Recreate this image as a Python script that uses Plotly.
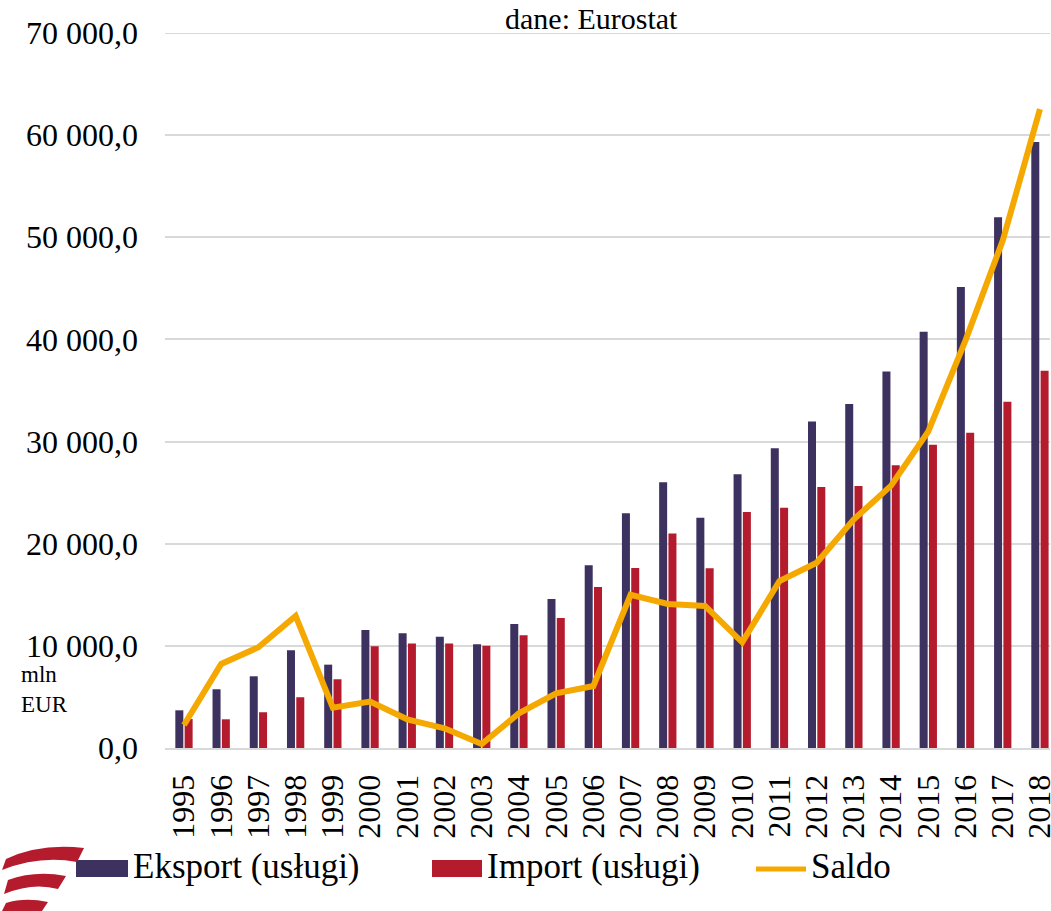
import plotly.graph_objects as go

years = [str(y) for y in range(1995, 2019)]
eksport = [3690, 5750, 7020, 9570, 8160, 11560, 11230, 10900, 10150, 12140, 14590, 17890,
           22990, 26020, 22530, 26800, 29340, 31970, 33670, 36860, 40760, 45140, 51970, 59320]
import_ = [2840, 2810, 3500, 4970, 6730, 9960, 10220, 10220, 10020, 11030, 12730, 15770,
           17630, 20990, 17600, 23100, 23520, 25560, 25650, 27690, 29680, 30870, 33890, 36940]
saldo = [2250, 8230, 9860, 12930, 3950, 4540, 2810, 1930, 390, 3400, 5360, 6070,
         14990, 14100, 13910, 10350, 16350, 18130, 22380, 25690, 31000, 39910, 49680, 62550]
ytick_vals = [0, 10000, 20000, 30000, 40000, 50000, 60000, 70000]
ytick_text = ["0,0", "10 000,0", "20 000,0", "30 000,0", "40 000,0", "50 000,0", "60 000,0", "70 000,0"]
series_names = ["Eksport (usługi)", "Import (usługi)", "Saldo"]

C_EXP = "#3d3160"
C_IMP = "#b41c2d"
C_SAL = "#f5a800"
FONT = "'Liberation Serif', 'Times New Roman', 'DejaVu Serif', serif"

W, H = 1051, 911
L, R, T, B = 165, 1, 33, 163
PW, PH = W - L - R, H - T - B


def px(x):
    return (x - L) / PW


def py(y):
    return (H - B - y) / PH


fig = go.Figure()
fig.add_trace(go.Bar(x=years, y=eksport, name=series_names[0], marker_color=C_EXP,
                     marker_line_width=0, showlegend=False))
fig.add_trace(go.Bar(x=years, y=import_, name=series_names[1], marker_color=C_IMP,
                     marker_line_width=0, showlegend=False))
fig.add_trace(go.Scatter(x=years, y=saldo, name=series_names[2], mode="lines",
                         line=dict(color=C_SAL, width=6), showlegend=False))

shapes = []
# top gridline (range edge)
shapes.append(dict(type="line", xref="paper", yref="y", x0=0, x1=1, y0=70000, y1=70000,
                   line=dict(color="#d9d9d9", width=2), layer="below"))
# legend symbols
shapes.append(dict(type="rect", xref="paper", yref="paper", x0=px(76), x1=px(128), y0=py(877), y1=py(860),
                   fillcolor=C_EXP, line_width=0))
shapes.append(dict(type="rect", xref="paper", yref="paper", x0=px(432), x1=px(482), y0=py(877), y1=py(860),
                   fillcolor=C_IMP, line_width=0))
shapes.append(dict(type="line", xref="paper", yref="paper", x0=px(756), x1=px(806), y0=py(869), y1=py(869),
                   line=dict(color=C_SAL, width=5)))


# decorative logo stripes (bottom-left)
def stripe(pts_top, pts_bot):
    p = "M {},{} ".format(px(pts_top[0][0]), py(pts_top[0][1]))
    p += "Q {},{} {},{} ".format(px(pts_top[1][0]), py(pts_top[1][1]), px(pts_top[2][0]), py(pts_top[2][1]))
    p += "L {},{} ".format(px(pts_bot[2][0]), py(pts_bot[2][1]))
    p += "Q {},{} {},{} Z".format(px(pts_bot[1][0]), py(pts_bot[1][1]), px(pts_bot[0][0]), py(pts_bot[0][1]))
    return dict(type="path", xref="paper", yref="paper", path=p, fillcolor=C_IMP, line_width=0, layer="above")


shapes.append(stripe([(6, 859), (40, 843), (84, 848)], [(2, 870), (40, 855), (77, 862)]))
shapes.append(stripe([(8, 880), (35, 870), (66, 876)], [(4, 894), (33, 882), (58, 889)]))
shapes.append(stripe([(6, 903), (25, 897), (48, 902)], [(2, 911), (20, 911), (42, 911)]))

annotations = [
    dict(text="dane: Eurostat", xref="paper", yref="paper", x=px(591), y=py(0), showarrow=False,
         xanchor="center", yanchor="top", font=dict(family=FONT, size=30, color="#000")),
    dict(text="mln<br>EUR", xref="paper", yref="paper", x=px(19), y=py(660), showarrow=False,
         xanchor="left", yanchor="top", align="left", font=dict(family=FONT, size=23, color="#000")),
    dict(text=series_names[0], xref="paper", yref="paper", x=px(131), y=py(867), showarrow=False,
         xanchor="left", yanchor="middle", font=dict(family=FONT, size=35, color="#000")),
    dict(text=series_names[1], xref="paper", yref="paper", x=px(485), y=py(867), showarrow=False,
         xanchor="left", yanchor="middle", font=dict(family=FONT, size=35, color="#000")),
    dict(text=series_names[2], xref="paper", yref="paper", x=px(809), y=py(867), showarrow=False,
         xanchor="left", yanchor="middle", font=dict(family=FONT, size=35, color="#000")),
]

fig.update_layout(
    width=W, height=H,
    margin=dict(l=L, r=R, t=T, b=B, pad=0, autoexpand=False),
    paper_bgcolor="white", plot_bgcolor="white",
    barmode="group", bargap=0.5, bargroupgap=0.14,
    font=dict(family=FONT, color="#000"),
    shapes=shapes, annotations=annotations,
    xaxis=dict(type="category", range=[-0.51, 23.27], tickangle=-90,
               tickmode="array", tickvals=years, ticktext=years, automargin=False,
               tickfont=dict(family=FONT, size=32, color="#000"),
               showgrid=False, showline=True, linecolor="#d9d9d9", linewidth=2,
               ticks="", ticklabelstandoff=12),
    yaxis=dict(range=[0, 70000], tickvals=ytick_vals, ticktext=ytick_text, automargin=False,
               tickfont=dict(family=FONT, size=32, color="#000"),
               showgrid=True, gridcolor="#d9d9d9", gridwidth=2,
               zeroline=False, showline=False, ticks="", ticklabelstandoff=26),
)

fig.write_html("out.html", config={"displayModeBar": False},
               post_script="document.body.style.margin='0';document.body.style.overflow='hidden';")
